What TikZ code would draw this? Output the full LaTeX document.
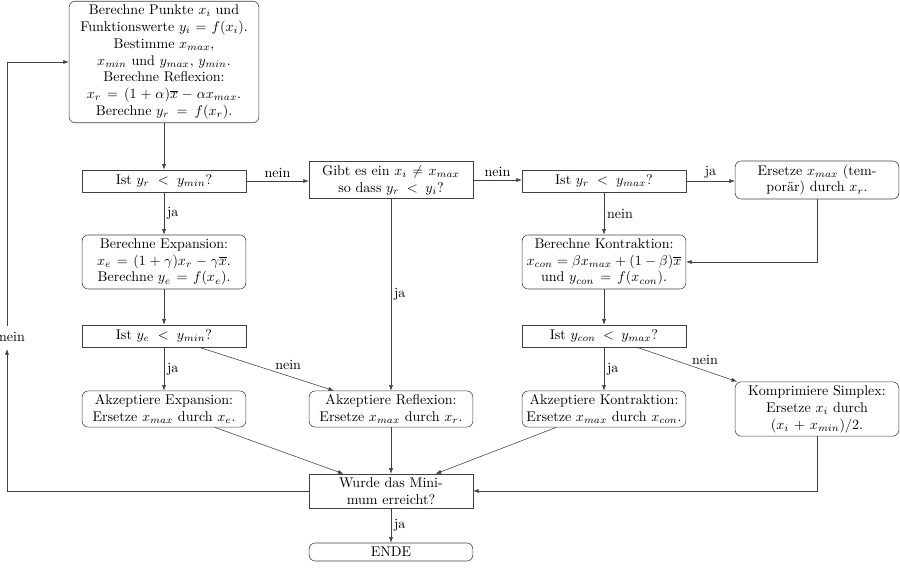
\documentclass[tikz,border=0pt]{standalone}
\usetikzlibrary{arrows.meta}

\begin{document}
\begin{tikzpicture}[>={Latex[length=1.4mm,width=1mm]}, line width=0.4pt]
        \def\hori{0.025}
        \def\vert{-0.025}
        \tikzstyle{box}=[rectangle, draw=black!75, text width=3.95cm, align=center, inner xsep=2pt, inner ysep=2.5pt, minimum height=0.55cm]
        \tikzstyle{rbox}=[box, rounded corners=1.5mm]
        \tikzstyle{lbl}=[inner sep=2pt]
        \tikzstyle{flow}=[draw=black!75, ->]

        \useasboundingbox (0, 0) rectangle (900 * \hori, 580 * \vert);

        % Start
        \draw node at (164 * \hori, 62 * \vert) [rbox, text width=4.6cm] (start) {Berechne Punkte $x_i$ und\\ Funktionswerte $y_i = f(x_i)$.\\ Bestimme $x_{max}$,\\ $x_{min}$ und $y_{max}$, $y_{min}$.\\ Berechne Reflexion:\\ $x_r = (1+\alpha)\overline{x} - \alpha x_{max}$.\\ Berechne $y_r = f(x_r)$.};

        % Questions, first row
        \draw node at (164 * \hori, 181 * \vert) [box] (ask_0) {Ist $y_r < y_{min}$?};
        \draw node at (391 * \hori, 180 * \vert) [box] (ask_1) {Gibt es ein $x_i \neq x_{max}$\\ so dass $y_r < y_i$?};
        \draw node at (604 * \hori, 181 * \vert) [box] (ask_2) {Ist $y_r < y_{max}$?};
        \draw node at (817 * \hori, 180 * \vert) [rbox] (swap) {Ersetze $x_{max}$ (tem-\\porär) durch $x_r$.};

        % Expansion / Kontraktion
        \draw node at (164 * \hori, 262 * \vert) [rbox] (calc_0) {Berechne Expansion:\\ $x_e = (1+\gamma)x_r - \gamma\overline{x}$.\\ Berechne $y_e = f(x_e)$.};
        \draw node at (604 * \hori, 262 * \vert) [rbox] (calc_1) {Berechne Kontraktion:\\ $x_{con} = \beta x_{max} + (1-\beta)\overline{x}$\\ und $y_{con} = f(x_{con})$.};

        % Questions, second row
        \draw node at (164 * \hori, 336 * \vert) [box] (ask_3) {Ist $y_e < y_{min}$?};
        \draw node at (604 * \hori, 336 * \vert) [box] (ask_4) {Ist $y_{con} < y_{max}$?};

        % Accept
        \draw node at (164 * \hori, 409 * \vert) [rbox] (acc_0) {Akzeptiere Expansion:\\ Ersetze $x_{max}$ durch $x_e$.};
        \draw node at (391 * \hori, 409 * \vert) [rbox] (acc_1) {Akzeptiere Reflexion:\\ Ersetze $x_{max}$ durch $x_r$.};
        \draw node at (604 * \hori, 409 * \vert) [rbox] (acc_2) {Akzeptiere Kontraktion:\\ Ersetze $x_{max}$ durch $x_{con}$.};
        \draw node at (817 * \hori, 409 * \vert) [rbox] (shrink) {Komprimiere Simplex:\\ Ersetze $x_i$ durch\\ $(x_i + x_{min})/2$.};

        % End
        \draw node at (391 * \hori, 491 * \vert) [box] (done) {Wurde das Mini-\\mum erreicht?};
        \draw node at (391 * \hori, 552 * \vert) [rbox, inner ysep=1.5pt, minimum height=0.45cm] (ende) {ENDE};

        % Loop back
        \draw node at (12 * \hori, 337 * \vert) [lbl] (back) {nein};
        \coordinate (back_lo) at (7 * \hori, 349 * \vert);
        \coordinate (back_hi) at (7 * \hori, 326 * \vert);

        % Start -> first row
        \draw [flow] (start) -- (ask_0);
        \draw [flow] (ask_0.east) to node[lbl, above] {nein} (ask_0.east -| ask_1.west);
        \draw [flow] (ask_1.east) to node[lbl, above] {nein} (ask_1.east -| ask_2.west);
        \draw [flow] (ask_2.east) to node[lbl, above] {ja} (ask_2.east -| swap.west);
        \draw [flow] (ask_0) to node[lbl, right] {ja} (calc_0);
        \draw [flow] (ask_2) to node[lbl, right] {nein} (calc_1);
        \draw [flow] (ask_1) to node[lbl, right] {ja} (acc_1);
        \draw [flow] (swap.south) |- (calc_1.east);

        % Second row
        \draw [flow] (calc_0) -- (ask_3);
        \draw [flow] (calc_1) -- (ask_4);
        \draw [flow] (ask_3) to node[lbl, right] {ja} (acc_0);
        \draw [flow] (ask_4) to node[lbl, right] {ja} (acc_2);
        \draw [flow] (ask_3) to node[lbl, above=2pt, pos=0.66] {nein} (acc_1);
        \draw [flow] (ask_4) to node[lbl, above=2pt, pos=0.68] {nein} (shrink);

        % Accept -> done
        \draw [flow] (acc_0) -- (done);
        \draw [flow] (acc_1) -- (done);
        \draw [flow] (acc_2) -- (done);
        \draw [flow] (shrink.south) |- (done.east);
        \draw [flow] (done) to node[lbl, right] {ja} (ende);
        \draw [flow] (done.west) -| (back_lo);
        \draw [flow] (back_hi) |- (start.west);

    \end{tikzpicture}
\end{document}
